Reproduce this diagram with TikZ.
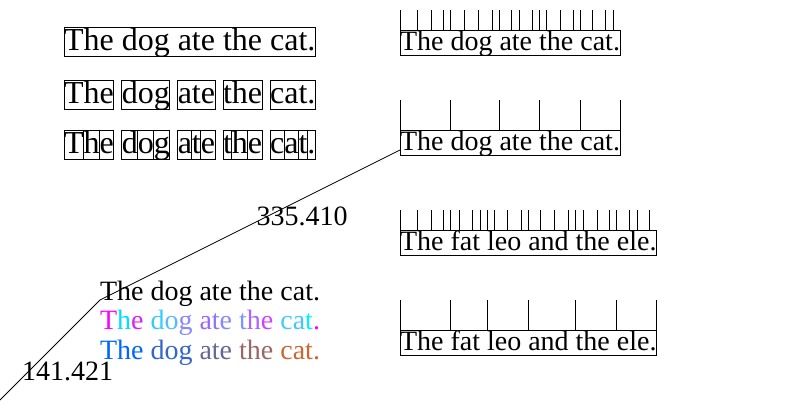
\documentclass[tikz,border=0pt]{standalone}
\usepackage{fontspec}
\setmainfont{Liberation Serif}
\newcommand\colch[2]{\textcolor[HTML]{#1}{#2}}
\newcommand\charrow[4]{%
  \node[#2, draw=none, text height=0pt, text depth=0pt, minimum width=0pt, minimum height=0pt] (#10) at #3 {};
  \foreach \mychar [count=\i, remember=\i as \j (initially 0)] in {#4}
    {\node[#2] (#1\i) at (#1\j.base east) {\mychar};}%
}
\begin{document}
\begin{tikzpicture}[x=1pt,y=-1pt,
  bigtxt/.style={font=\fontsize{32}{38}\selectfont, inner sep=0pt, outer sep=0pt, anchor=base west,
    text height=22.7pt, text depth=6.7pt, minimum width=0pt, minimum height=0pt},
  smalltxt/.style={font=\fontsize{28}{34}\selectfont, inner sep=0pt, outer sep=0pt, anchor=base west,
    text height=19.9pt, text depth=5.9pt, minimum width=0pt, minimum height=0pt},
  plaintxt/.style={font=\fontsize{28}{34}\selectfont, inner sep=0pt, outer sep=0pt, anchor=base west},
  bigbox/.style={bigtxt, draw, line width=1pt},
  thin/.style={line width=1pt},
  tickline/.style={line width=1pt}]
\useasboundingbox (0,0) rectangle (800,400);

% left column, row 1
\node[bigbox] (r1) at (64,50) {The dog ate the cat.};

% row 2: word boxes
\node[bigbox] (w1) at (64,103) {The};
\node[bigbox] (w2) at ([xshift=8pt]w1.base east) {dog};
\node[bigbox] (w3) at ([xshift=8pt]w2.base east) {ate};
\node[bigbox] (w4) at ([xshift=8pt]w3.base east) {the};
\node[bigbox] (w5) at ([xshift=8pt]w4.base east) {cat.};

% row 3: character boxes
\node[bigbox] (c1) at (64,153) {T};
\node[bigbox] (c2) at (c1.base east) {h};
\node[bigbox] (c3) at (c2.base east) {e};
\node[bigbox] (c4) at ([xshift=8pt]c3.base east) {d};
\node[bigbox] (c5) at (c4.base east) {o};
\node[bigbox] (c6) at (c5.base east) {g};
\node[bigbox] (c7) at ([xshift=8pt]c6.base east) {a};
\node[bigbox] (c8) at (c7.base east) {t};
\node[bigbox] (c9) at (c8.base east) {e};
\node[bigbox] (c10) at ([xshift=8pt]c9.base east) {t};
\node[bigbox] (c11) at (c10.base east) {h};
\node[bigbox] (c12) at (c11.base east) {e};
\node[bigbox] (c13) at ([xshift=8pt]c12.base east) {c};
\node[bigbox] (c14) at (c13.base east) {a};
\node[bigbox] (c15) at (c14.base east) {t};
\node[bigbox] (c16) at (c15.base east) {.};

% block A: ticks at every character
\charrow{A}{smalltxt}{(400,50)}{T,h,e,\kern7pt,d,o,g,\kern7pt,a,t,e,\kern7pt,t,h,e,\kern7pt,c,a,t,.}
\draw[thin] (A1.north west) rectangle (A20.south east);
\foreach \i in {1,...,20} \draw[tickline] (A\i.north west) -- ++(0,-20);

% block B: ticks at every word
\node[smalltxt] (B1) at (400,150) {The};
\node[smalltxt] (B2) at ([xshift=7pt]B1.base east) {dog};
\node[smalltxt] (B3) at ([xshift=7pt]B2.base east) {ate};
\node[smalltxt] (B4) at ([xshift=7pt]B3.base east) {the};
\node[smalltxt] (B5) at ([xshift=7pt]B4.base east) {cat.};
\draw[thin] (B1.north west) rectangle (B5.south east);
\foreach \i in {1,...,5} \draw[tickline] (B\i.north west) -- ++(0,-30);
\draw[tickline] (B5.north east) -- ++(0,-30);

% block C: ticks at every character
\charrow{C}{smalltxt}{(400,250)}{T,h,e,\kern7pt,f,a,t,\kern7pt,l,e,o,\kern7pt,a,n,d,\kern7pt,t,h,e,\kern7pt,e,l,e,.}
\draw[thin] (C1.north west) rectangle (C24.south east);
\foreach \i in {1,...,24} \draw[tickline] (C\i.north west) -- ++(0,-20);

% block D: ticks at every word
\node[smalltxt] (D1) at (400,350) {The};
\node[smalltxt] (D2) at ([xshift=7pt]D1.base east) {fat};
\node[smalltxt] (D3) at ([xshift=7pt]D2.base east) {leo};
\node[smalltxt] (D4) at ([xshift=7pt]D3.base east) {and};
\node[smalltxt] (D5) at ([xshift=7pt]D4.base east) {the};
\node[smalltxt] (D6) at ([xshift=7pt]D5.base east) {ele.};
\draw[thin] (D1.north west) rectangle (D6.south east);
\foreach \i in {1,...,6} \draw[tickline] (D\i.north west) -- ++(0,-30);
\draw[tickline] (D6.north east) -- ++(0,-30);

% bottom-left lines of text
\node[plaintxt] (L1) at (100,300) {The dog ate the cat.};
\node[plaintxt] (L2) at (100,329.5) {\colch{FF00FF}{T}\colch{00DDFF}{h}\colch{DD22EE}{e} \colch{33CCFF}{d}\colch{55BBFF}{o}\colch{8888FF}{g} \colch{9966FF}{a}\colch{8877FF}{t}\colch{8888FF}{e} \colch{7799FF}{t}\colch{AA66FF}{h}\colch{CC44FF}{e} \colch{44CCFF}{c}\colch{44C4FF}{a}\colch{00F0FF}{t}\colch{FF00FF}{.}};
\node[plaintxt] (L3) at (100,359) {\colch{0066FF}{The} \colch{3366CC}{dog} \colch{666699}{ate} \colch{996666}{the} \colch{CC6633}{cat.}};

% path and its segment lengths
\coordinate (p0) at (0,400);
\draw[line width=0.8pt] (p0) -- (L1.base west) -- (B1.base west);
\node[plaintxt] (len1) at (22,380) {141.421};
\node[plaintxt] (len2) at (256.5,225) {335.410};
\end{tikzpicture}
\end{document}
